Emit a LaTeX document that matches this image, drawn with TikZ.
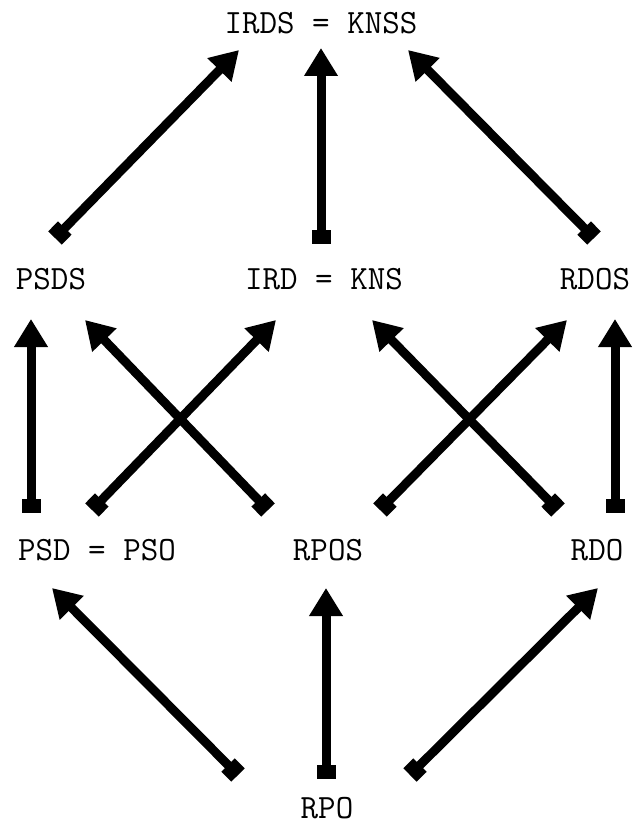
\documentclass[tikz,border=0pt]{standalone}
\usetikzlibrary{arrows.meta}
\begin{document}
\begin{tikzpicture}[x=1pt,y=-1pt,
  lbl/.style={inner sep=0pt, font=\ttfamily\fontsize{34}{36}\selectfont},
  conn/.style={line width=9pt, {Rectangle[length=14pt,width=19pt]}-{Triangle[length=28pt,width=32pt]}}]
\useasboundingbox (0,0) rectangle (635,824);
% labels
\node[lbl] (irds) at (321,23) {IRDS = KNSS};
\node[lbl] (psds) at (51,279) {PSDS};
\node[lbl] (ird)  at (324,279) {IRD = KNS};
\node[lbl] (rdos) at (595,279) {RDOS};
\node[lbl] (psd)  at (97,550) {PSD = PSO};
\node[lbl] (rpos) at (328,550) {RPOS};
\node[lbl] (rdo)  at (597,550) {RDO};
\node[lbl] (rpo)  at (327,808) {RPO};
% connector ends
\coordinate (irds-sw) at (239,50);
\coordinate (irds-s)  at (321,48);
\coordinate (irds-se) at (408,50);
\coordinate (psds-ne) at (55,238);
\coordinate (ird-n)   at (321,244);
\coordinate (rdos-nw) at (594,238);
\coordinate (psds-s)  at (31,319);
\coordinate (psds-se) at (85,320);
\coordinate (ird-sw)  at (276,320);
\coordinate (ird-se)  at (372,320);
\coordinate (rdos-sw) at (567,320);
\coordinate (rdos-s)  at (615,319);
\coordinate (psd-n)   at (31,513);
\coordinate (psd-ne)  at (92,510);
\coordinate (rpos-nw) at (268,510);
\coordinate (rpos-ne) at (380,510);
\coordinate (rdo-nw)  at (558,510);
\coordinate (rdo-n)   at (615,513);
\coordinate (psd-se)  at (52,588);
\coordinate (rpos-s)  at (326,588);
\coordinate (rdo-sw)  at (598,588);
\coordinate (rpo-nw)  at (238,775);
\coordinate (rpo-n)   at (326,779);
\coordinate (rpo-ne)  at (410,775);
% connectors
\draw[conn] (psds-ne) -- (irds-sw);
\draw[conn] (ird-n) -- (irds-s);
\draw[conn] (rdos-nw) -- (irds-se);
\draw[conn] (psd-n) -- (psds-s);
\draw[conn] (rpos-nw) -- (psds-se);
\draw[conn] (psd-ne) -- (ird-sw);
\draw[conn] (rdo-nw) -- (ird-se);
\draw[conn] (rpos-ne) -- (rdos-sw);
\draw[conn] (rdo-n) -- (rdos-s);
\draw[conn] (rpo-nw) -- (psd-se);
\draw[conn] (rpo-n) -- (rpos-s);
\draw[conn] (rpo-ne) -- (rdo-sw);
\end{tikzpicture}
\end{document}
